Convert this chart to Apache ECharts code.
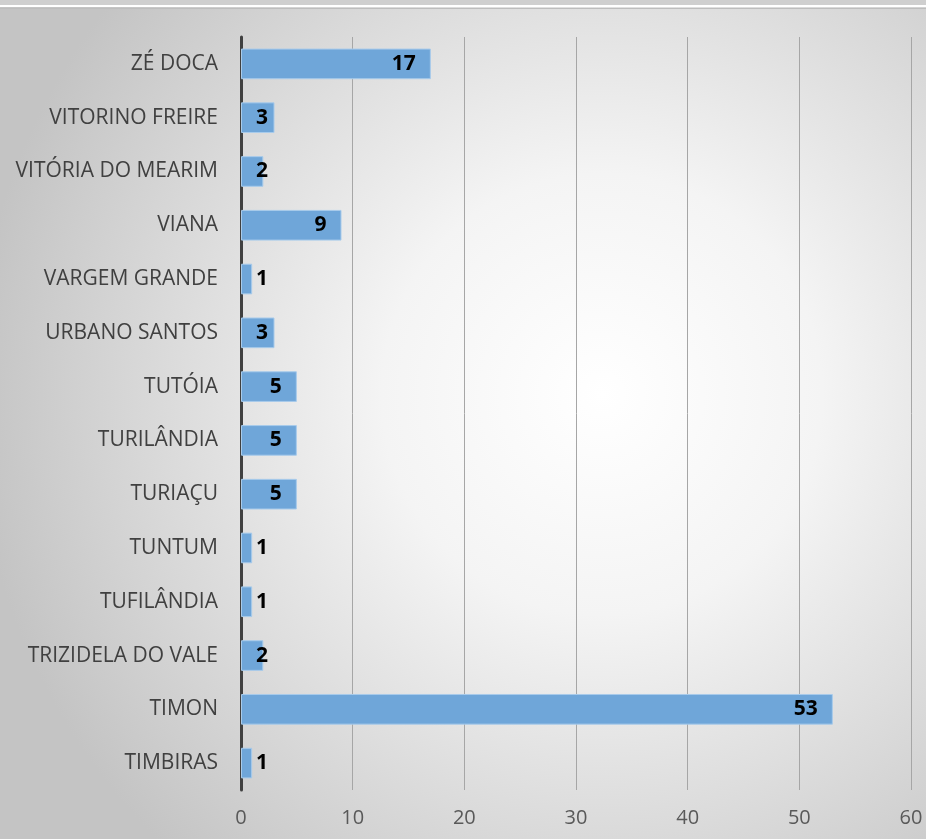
<!DOCTYPE html>
<html><head><meta charset="utf-8">
<script src="https://cdn.jsdelivr.net/npm/echarts@6/dist/echarts.min.js"></script>
<style>html,body{margin:0;padding:0;}#c{width:926px;height:839px;}</style>
</head><body><div id="c"></div>
<script>
const categories = ['TIMBIRAS','TIMON','TRIZIDELA DO VALE','TUFILÂNDIA','TUNTUM','TURIAÇU','TURILÂNDIA','TUTÓIA','URBANO SANTOS','VARGEM GRANDE','VIANA','VITÓRIA DO MEARIM','VITORINO FREIRE','ZÉ DOCA'];
const values = [1,53,2,1,1,5,5,5,3,1,9,2,3,17];
const xTicks = [0,10,20,30,40,50,60];

const chart = echarts.init(document.getElementById('c'));
const data = values.map(v => ({
  value: v,
  label: v <= 3 ? {position: 'insideLeft', distance: 15} : {position: 'insideRight', distance: 15}
}));
chart.setOption({
  animation: false,
  graphic: [
    {type: 'rect', z: -10, silent: true, shape: {x: 0, y: 0, width: 926, height: 839},
     style: {fill: new echarts.graphic.RadialGradient(0.65, 0.47, 0.75, [
       {offset: 0, color: '#ffffff'}, {offset: 0.35, color: '#f4f4f4'}, {offset: 1, color: '#c4c4c4'}])}},
    {type: 'rect', z: -9, silent: true, shape: {x: 0, y: 0, width: 926, height: 5}, style: {fill: '#cfcfcf'}},
    {type: 'line', z: -9, silent: true, shape: {x1: 0, y1: 6, x2: 926, y2: 6}, style: {stroke: '#ffffff', lineWidth: 2}},
    {type: 'line', z: -9, silent: true, shape: {x1: 0, y1: 8.5, x2: 926, y2: 8.5}, style: {stroke: '#bdbdbd', lineWidth: 1}}
  ],
  grid: {left: 241, right: 15, top: 37, bottom: 49, containLabel: false},
  xAxis: {
    type: 'value', min: xTicks[0], max: xTicks[xTicks.length - 1], interval: 10,
    axisLine: {show: false}, axisTick: {show: false},
    axisLabel: {color: '#595959', fontSize: 20, fontFamily: 'Open Sans', margin: 18},
    splitLine: {show: true, lineStyle: {color: '#a6a6a6', width: 1}}
  },
  yAxis: {
    type: 'category', data: categories,
    axisLine: {show: true, lineStyle: {color: '#404040', width: 3}},
    axisTick: {show: false},
    axisLabel: {color: '#404040', fontSize: 21, fontFamily: 'Open Sans', margin: 23}
  },
  series: [{
    type: 'bar', data: data, barWidth: '57%',
    itemStyle: {color: '#6fa6d9', borderColor: '#a8cbeb', borderWidth: 1},
    label: {show: true, color: '#000000', fontWeight: 'bold', fontSize: 21, fontFamily: 'Open Sans'}
  }]
});
</script></body></html>
